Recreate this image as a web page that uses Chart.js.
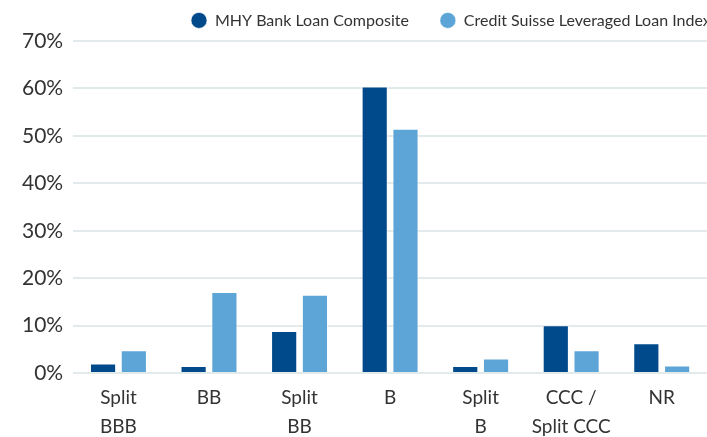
<!DOCTYPE html>
<html>
<head>
<meta charset="utf-8">
<script src="https://cdn.jsdelivr.net/npm/chart.js@4"></script>
<style>
  html, body { margin: 0; padding: 0; background: #fff; }
  #wrap { width: 707px; height: 437px; }
</style>
</head>
<body>
<div id="wrap"><canvas id="ratingChart" width="707" height="437"></canvas></div>
<script>
const categories = [['Split', 'BBB'], 'BB', ['Split', 'BB'], 'B', ['Split', 'B'], ['CCC /', 'Split CCC'], 'NR'];
const mhyValues = [2.0, 1.5, 8.9, 60.4, 1.5, 10.1, 6.3];
const csValues = [4.8, 17.1, 16.5, 51.5, 3.1, 4.8, 1.6];

const darkBlue = '#004a8c';
const lightBlue = '#5ca5d6';

Chart.defaults.font.family = 'Lato, "Open Sans", sans-serif';
Chart.defaults.color = '#333';

// the legend in the source runs off the right edge, so push it over after layout
const legendShift = {
    id: 'legendShift',
    afterLayout(chart) {
        const legend = chart.legend;
        if (!legend || !legend.lineWidths) return;
        const shift = 191 - (legend.right - legend.lineWidths[0]);
        legend.left += shift;
        legend.right += shift;
        legend.top = 22 - 31 - 9.6;
    }
};

const context = document.getElementById('ratingChart').getContext('2d');

const myChart = new Chart(context, {
    type: 'bar',
    data: {
        labels: categories,
        datasets: [
            {
                label: 'MHY Bank Loan Composite',
                data: mhyValues,
                backgroundColor: darkBlue,
                borderColor: 'rgba(255,255,255,0.6)',
                borderWidth: 1,
                categoryPercentage: 0.68,
                barPercentage: 0.85
            },
            {
                label: 'Credit Suisse Leveraged Loan Index',
                data: csValues,
                backgroundColor: lightBlue,
                borderColor: 'rgba(255,255,255,0.6)',
                borderWidth: 1,
                categoryPercentage: 0.68,
                barPercentage: 0.85
            }
        ]
    },
    plugins: [legendShift],
    options: {
        responsive: false,
        animation: false,
        layout: { padding: { left: 12, right: 0, top: 7, bottom: -15 } },
        plugins: {
            legend: {
                position: 'top',
                align: 'end',
                maxHeight: 34,
                labels: {
                    usePointStyle: true,
                    pointStyle: 'circle',
                    boxWidth: 16,
                    boxHeight: 11.3,
                    padding: 31,
                    color: '#333',
                    font: { size: 16 }
                }
            },
            tooltip: { enabled: false }
        },
        scales: {
            x: {
                grid: { display: false, drawTicks: false },
                border: { display: false },
                ticks: {
                    color: '#333',
                    font: { size: 19, lineHeight: 1.55 },
                    maxRotation: 0,
                    autoSkip: false,
                    padding: 10
                }
            },
            y: {
                min: 0,
                max: 70,
                border: { display: false },
                grid: { color: '#e3eaec', lineWidth: 2, drawTicks: false },
                ticks: {
                    stepSize: 10,
                    color: '#333',
                    font: { size: 21 },
                    padding: 10,
                    callback: (value) => value + '%'
                }
            }
        }
    }
});
</script>
</body>
</html>
